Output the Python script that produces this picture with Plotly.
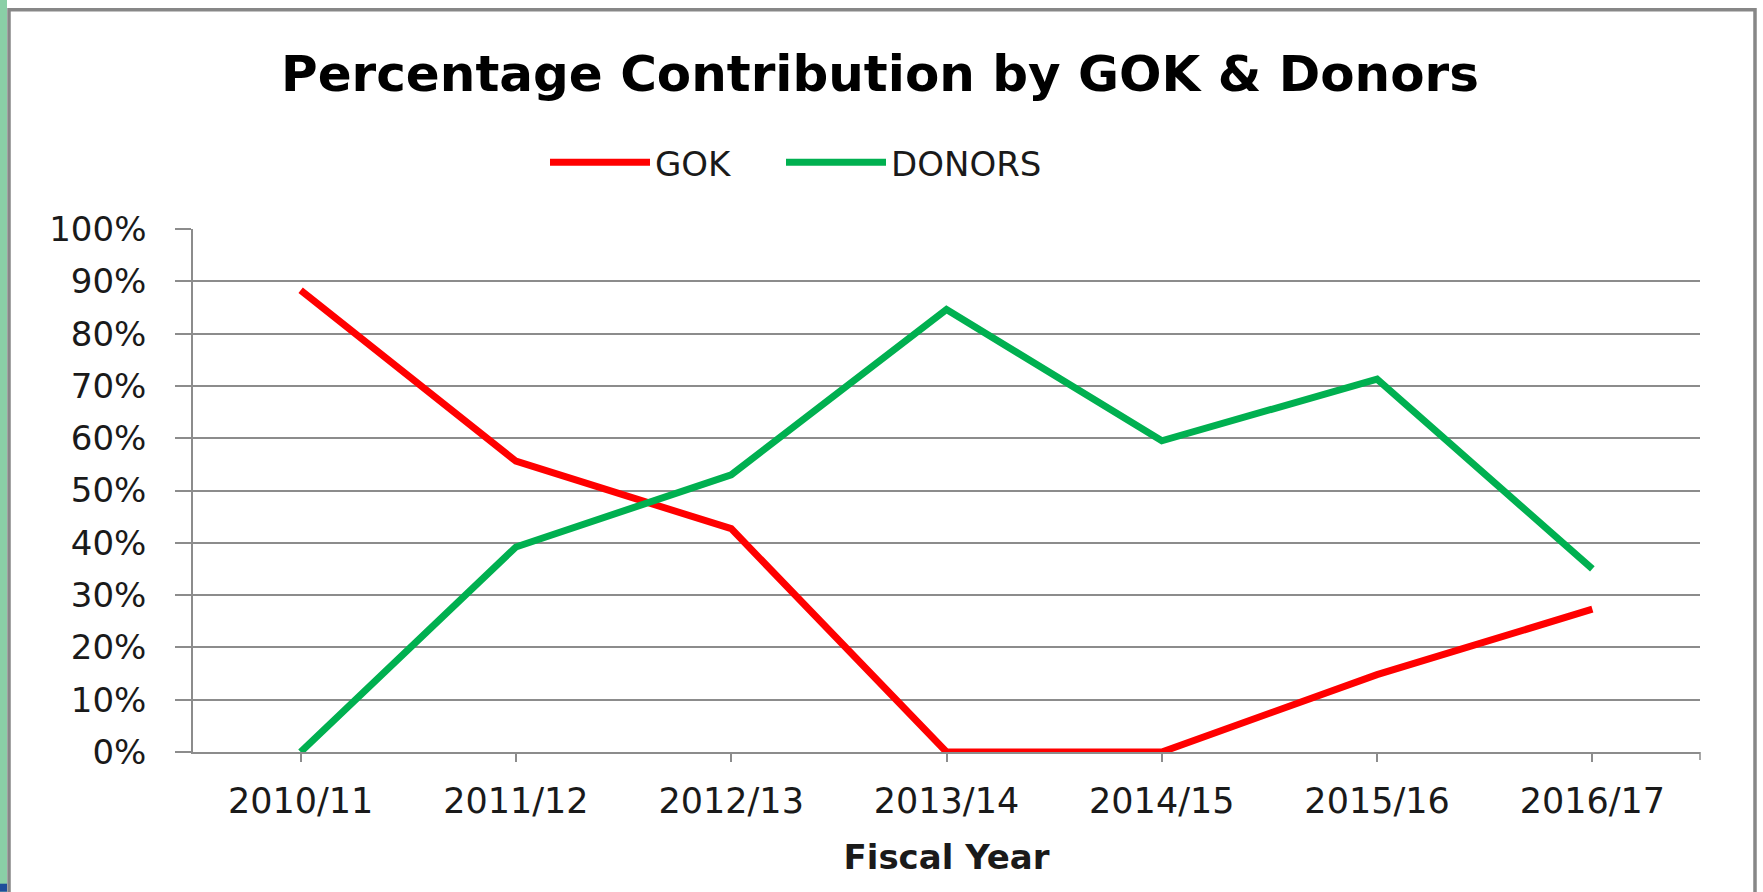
import plotly.graph_objects as go

# ---- data ----
fiscal_years = ["2010/11", "2011/12", "2012/13", "2013/14", "2014/15", "2015/16", "2016/17"]
gok_share = [0.883, 0.556, 0.427, 0.0, 0.0, 0.148, 0.273]
donors_share = [0.0, 0.392, 0.530, 0.846, 0.595, 0.713, 0.350]
series_names = ["GOK", "DONORS"]
series_colors = ["#FF0000", "#00B050"]
y_ticks = [0, 0.1, 0.2, 0.3, 0.4, 0.5, 0.6, 0.7, 0.8, 0.9, 1.0]

W, H = 1763, 892
L, R, T, B = 193, 1700, 229.3, 752.3


def px(x):
    return (x - L) / (R - L)


def py(y):
    return (B - y) / (B - T)


FONT = "DejaVu Sans"
GRID = "#8C8C8C"
legend_ids = ["legend", "legend2"]
legend_left_px = [545, 781]

fig = go.Figure()
for name, vals, col, lg in zip(series_names, [gok_share, donors_share], series_colors, legend_ids):
    fig.add_trace(go.Scatter(
        x=fiscal_years, y=vals, name=name, mode="lines",
        line=dict(color=col, width=7), legend=lg, showlegend=True,
    ))

shapes = [
    # green strip at left edge
    dict(type="rect", xref="paper", yref="paper", x0=px(0), x1=px(7), y0=py(0), y1=py(H),
         fillcolor="#8ACFA6", line=dict(width=0), layer="below"),
    dict(type="rect", xref="paper", yref="paper", x0=px(0), x1=px(7), y0=py(884), y1=py(H),
         fillcolor="#1F4E9A", line=dict(width=0), layer="below"),
    # outer frame
    dict(type="rect", xref="paper", yref="paper", x0=px(9), x1=px(1755), y0=py(10), y1=py(905),
         fillcolor="rgba(0,0,0,0)", line=dict(color="#878787", width=3.5)),
    # end tick at right edge of category axis
    dict(type="line", xref="paper", yref="paper", x0=1, x1=1, y0=0, y1=py(B + 8),
         line=dict(color=GRID, width=1.5)),
]

legend_common = dict(orientation="h", xanchor="left", y=py(163), yanchor="middle",
                     font=dict(family=FONT, size=34, color="#1A1A1A"),
                     itemwidth=100, bgcolor="rgba(0,0,0,0)", borderwidth=0, visible=True)

fig.update_layout(
    width=W, height=H,
    showlegend=True,
    margin=dict(l=L, r=W - R, t=T, b=H - B, autoexpand=False),
    paper_bgcolor="white", plot_bgcolor="white",
    font=dict(family=FONT, size=34, color="#1A1A1A"),
    title=dict(text="Percentage Contribution by GOK & Donors",
               font=dict(family=FONT, size=50, color="black", weight="bold"),
               x=880 / W, xanchor="center", xref="container",
               y=1 - 73 / H, yanchor="middle", yref="container"),
    legend=dict(x=px(legend_left_px[0]), **legend_common),
    legend2=dict(x=px(legend_left_px[1]), **legend_common),
    shapes=shapes,
    xaxis=dict(type="category", showline=True, linecolor=GRID, linewidth=1.5,
               ticks="outside", ticklen=8, tickcolor=GRID, tickwidth=1.5,
               showgrid=False, zeroline=False, range=[-0.5, 6.5],
               tickfont=dict(family=FONT, size=35, color="#1A1A1A"),
               ticklabelstandoff=9,
               title=dict(text="Fiscal Year", standoff=25,
                          font=dict(family=FONT, size=34, color="#1A1A1A", weight="bold"))),
    yaxis=dict(range=[0, 1], tickvals=y_ticks, tickformat=".0%",
               showline=True, linecolor=GRID, linewidth=1.5,
               ticks="outside", ticklen=16, tickcolor=GRID, tickwidth=1.5,
               showgrid=True, gridcolor=GRID, gridwidth=1.5, zeroline=False,
               tickfont=dict(family=FONT, size=34, color="#1A1A1A"),
               ticklabelstandoff=22),
)

fig.write_html("out.html", config={"displayModeBar": False},
               post_script="document.body.style.margin='0';document.body.style.overflow='hidden';")
